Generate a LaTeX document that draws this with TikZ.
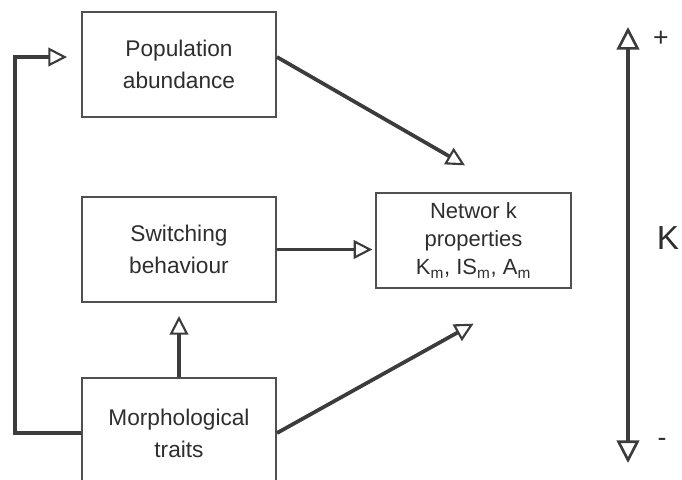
\documentclass[tikz,border=0pt]{standalone}
\usepackage{fontspec}
\setmainfont{Liberation Sans}
\usetikzlibrary{positioning, arrows.meta}
\definecolor{boxgray}{HTML}{505050}
\definecolor{linegray}{HTML}{3C3C3C}
\definecolor{textgray}{HTML}{2E2E2E}

\begin{document}
\begin{tikzpicture}[
    x=0.75pt, y=-0.75pt,
    boxnode/.style={rectangle, draw=boxgray, line width=1.5pt, minimum width=145.5pt, minimum height=78.75pt, align=center, text=textgray, font=\fontsize{17}{24}\selectfont},
    linkarrow/.style={draw=linegray, line width=2.8pt, -{Triangle[open, length=14pt, width=14pt, line width=1.6pt]}},
]
\clip (0,0) rectangle (682,479);
\node[boxnode](population) at (179,64.5){Population\\abundance};
\node[boxnode](switching)[below = 58.5pt of population]{Switching\\behaviour};
\node[boxnode, minimum height=82.5pt](morphological)[below = 55.5pt of switching]{Morphological\\traits};
\node[boxnode, minimum width=146.25pt, minimum height=71.25pt, font=\fontsize{16.5}{21}\selectfont](network) at (473.5,240.5){Networ k\\properties\\K\textsubscript{m}, IS\textsubscript{m}, A\textsubscript{m}};
\coordinate (loopcorner) at (15,57);
\draw[linkarrow] ([yshift=5.6pt]population.east) -- ([xshift=-6.4pt, yshift=20pt]network.north);
\draw[linkarrow] (switching.east) -- ([xshift=-2pt]switching.east -| network.west);
\draw[linkarrow] (morphological.north) -- ([yshift=-9.75pt]switching.south);
\draw[linkarrow] (morphological.east) -- ([yshift=-26pt]network.south);
\draw[linkarrow] (morphological.west) -| (loopcorner) -- ([xshift=-10.5pt, yshift=5.6pt]population.west);
% K scale
\coordinate (kplus) at (628,27);
\coordinate (kminus) at (628,463);
\draw[draw=linegray, line width=3.6pt, {Triangle[open, length=17pt, width=17pt, line width=2pt]}-{Triangle[open, length=17pt, width=17pt, line width=2pt]}] (kminus) -- (kplus);
\node[text=textgray, font=\fontsize{20}{24}\selectfont](plus) at (661,39){+};
\node[text=textgray, font=\fontsize{20}{24}\selectfont](minus) at (662,442){-};
\node[text=textgray, font=\fontsize{25}{30}\selectfont](kname) at (668,238){K};
\end{tikzpicture}
\end{document}
